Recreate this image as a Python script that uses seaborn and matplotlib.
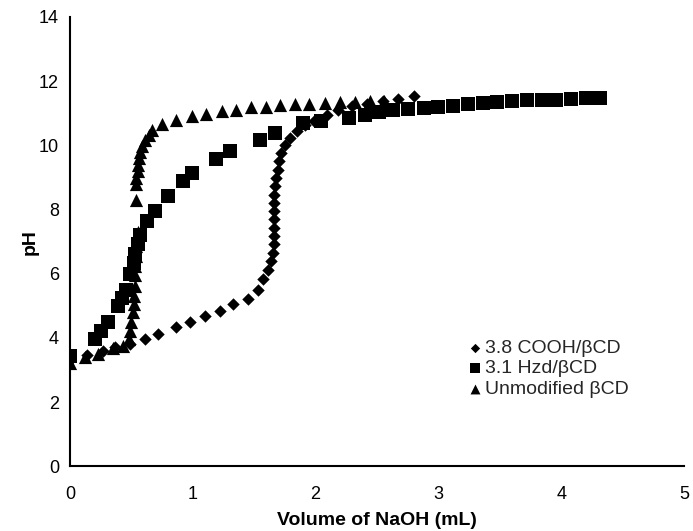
import matplotlib
matplotlib.use("Agg")
import matplotlib.pyplot as plt
import seaborn as sns
import pandas as pd

# COOH/βCD (diamonds)
cooh_x = [0.00, 0.14, 0.27, 0.37, 0.49, 0.61, 0.72, 0.86, 0.98, 1.10, 1.22, 1.33, 1.45,
          1.53, 1.57, 1.61, 1.64, 1.65, 1.66, 1.66, 1.66, 1.66, 1.66, 1.66, 1.66, 1.67,
          1.68, 1.69, 1.70, 1.72, 1.75, 1.79, 1.85, 1.91, 1.99, 2.09, 2.18, 2.30, 2.42,
          2.55, 2.67, 2.80]
cooh_y = [3.30, 3.48, 3.60, 3.72, 3.80, 3.95, 4.12, 4.33, 4.49, 4.67, 4.83, 5.06, 5.22,
          5.50, 5.82, 6.13, 6.39, 6.65, 6.91, 7.17, 7.43, 7.69, 7.95, 8.21, 8.46, 8.72,
          8.98, 9.24, 9.50, 9.76, 10.02, 10.23, 10.44, 10.64, 10.75, 10.96, 11.11, 11.22,
          11.30, 11.38, 11.44, 11.53]

# Hzd/βCD (squares)
hzd_x = [0.00, 0.20, 0.25, 0.31, 0.39, 0.42, 0.46, 0.49, 0.52, 0.53, 0.55, 0.57, 0.63,
         0.69, 0.80, 0.92, 0.99, 1.19, 1.30, 1.55, 1.67, 1.90, 2.04, 2.27, 2.40, 2.52,
         2.63, 2.75, 2.88, 3.00, 3.12, 3.24, 3.36, 3.48, 3.60, 3.72, 3.84, 3.96, 4.08,
         4.20, 4.32]
hzd_y = [3.45, 3.98, 4.22, 4.50, 5.00, 5.25, 5.48, 6.00, 6.32, 6.62, 6.92, 7.20, 7.63,
         7.94, 8.41, 8.88, 9.14, 9.58, 9.81, 10.17, 10.39, 10.70, 10.75, 10.85, 10.96,
         11.03, 11.09, 11.13, 11.16, 11.18, 11.24, 11.29, 11.32, 11.34, 11.37, 11.40,
         11.42, 11.42, 11.44, 11.48, 11.48]

# Unmodified βCD (triangles)
unmod_x = [0.00, 0.12, 0.23, 0.35, 0.43, 0.48, 0.49, 0.50, 0.51, 0.52, 0.52, 0.53, 0.53,
           0.53, 0.54, 0.54, 0.55, 0.55, 0.54, 0.54, 0.54, 0.55, 0.55, 0.56, 0.57, 0.59,
           0.61, 0.64, 0.67, 0.75, 0.86, 0.99, 1.11, 1.24, 1.35, 1.47, 1.60, 1.71, 1.83,
           1.95, 2.08, 2.20, 2.32, 2.44, 2.56]
unmod_y = [3.22, 3.40, 3.50, 3.68, 3.74, 3.95, 4.21, 4.50, 4.80, 5.05, 5.32, 5.62, 5.95,
           6.25, 6.55, 6.85, 7.10, 7.30, 8.30, 8.78, 8.98, 9.19, 9.40, 9.61, 9.78, 9.97,
           10.18, 10.33, 10.49, 10.66, 10.78, 10.90, 10.99, 11.06, 11.11, 11.18, 11.21,
           11.25, 11.28, 11.30, 11.32, 11.34, 11.35, 11.37, 11.38]

labels = ["3.8 COOH/\u03b2CD", "3.1 Hzd/\u03b2CD", "Unmodified \u03b2CD"]
x_ticks = [0, 1, 2, 3, 4, 5]
y_ticks = [0, 2, 4, 6, 8, 10, 12, 14]

sns.set_theme(style="white")
plt.rcParams["font.family"] = ["Liberation Sans", "DejaVu Sans"]

fig = plt.figure(figsize=(6.93, 5.31), dpi=100)
ax = fig.add_axes([0.101, 0.122, 0.886, 0.846])

series = [
    (cooh_x, cooh_y, "D", 40, labels[0]),
    (hzd_x, hzd_y, "s", 88, labels[1]),
    (unmod_x, unmod_y, "^", 90, labels[2]),
]
for xs, ys, mk, s, lab in series:
    df = pd.DataFrame({"x": xs, "y": ys})
    sns.scatterplot(data=df, x="x", y="y", marker=mk, s=s, color="black",
                    edgecolor="black", linewidth=0, label=lab, ax=ax, zorder=3)

ax.set_xlim(0, 5)
ax.set_ylim(0, 14)
ax.set_xticks(x_ticks)
ax.set_yticks(y_ticks)
ax.tick_params(axis="both", direction="in", length=5, width=1.3, color="black",
               labelsize=13, labelcolor="black")
ax.tick_params(axis="x", pad=14)
ax.tick_params(axis="y", pad=8)
for side in ["top", "right"]:
    ax.spines[side].set_visible(False)
for side in ["left", "bottom"]:
    ax.spines[side].set_color("black")
    ax.spines[side].set_linewidth(1.5)

ax.set_xlabel("Volume of NaOH (mL)", fontsize=14, fontweight="bold", color="black", labelpad=7)
ax.set_ylabel("pH", fontsize=14, fontweight="bold", color="black", labelpad=0)

leg = ax.legend(loc="upper left", bbox_to_anchor=(0.638, 0.30), frameon=False,
                fontsize=14, handlelength=0.6, handletextpad=0.2, labelspacing=0.15,
                markerscale=0.75, borderaxespad=0)

fig.savefig("out.png", dpi=100)
